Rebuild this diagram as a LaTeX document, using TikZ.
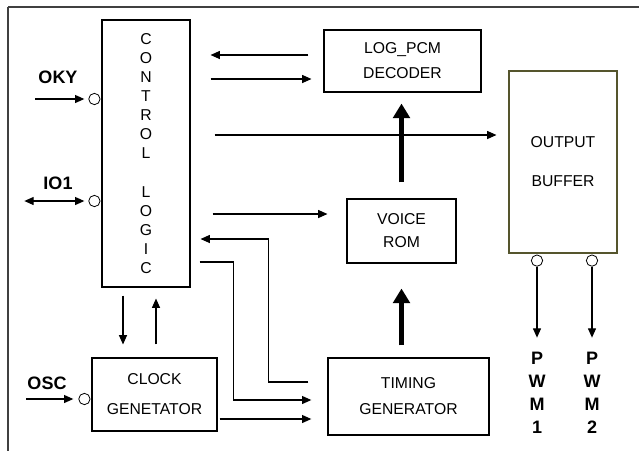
\documentclass[tikz,border=0pt]{standalone}
\usepackage{fontspec}
\setmainfont{Liberation Sans}
\usetikzlibrary{arrows.meta,calc}

\tikzset{
  blk/.style={draw, line width=0.8pt, inner sep=0pt, align=center,
    font=\fontsize{11.8}{#1}\selectfont},
  pin/.style={draw, circle, minimum size=8.5pt, inner sep=0pt, line width=0.6pt},
  lbl/.style={align=center, font=\fontsize{13.5}{17.25}\selectfont\bfseries},
  arr/.style={->, line width=0.9pt},
  fat/.style={-{Triangle[width=12.5pt,length=11pt]}, line width=3.2pt},
}

\begin{document}
\begin{tikzpicture}[x=0.75pt, y=-0.75pt, >={Triangle[width=6pt,length=7pt]}]
	\useasboundingbox (0,0) rectangle (639,451);
	
	% outer frame (open at right and bottom)
	\draw[line width=1.4pt, black!75] (639,7) -- (8,7);
	\draw[line width=1pt, black!75] (8,6.5) -- (8,451);
	
	% blocks
	\node[blk=14.3pt, minimum width=66pt, minimum height=200.25pt] (ctl) at (146,153.5)
		{C\\O\\N\\T\\R\\O\\L\\ \\L\\O\\G\\I\\C};
	\node[blk=18.75pt, minimum width=117.75pt, minimum height=46.5pt] (log) at (402.5,61)
		{LOG\_PCM\\DECODER};
	\node[blk=29.25pt, draw={rgb,255:red,85;green,85;blue,45}, minimum width=81pt, minimum height=136.5pt]
		(buf) at (563,162) {OUTPUT\\BUFFER};
	\node[blk=17.25pt, minimum width=81.75pt, minimum height=48pt] (rom) at (401.5,231)
		{VOICE\\ROM};
	\node[blk=19.5pt, line width=1pt, minimum width=120.75pt, minimum height=57.75pt] (tim) at (408.5,396.5)
		{TIMING\\GENERATOR};
	\node[blk=22.5pt, minimum width=93.75pt, minimum height=54.75pt] (clk) at (154.5,394.5)
		{CLOCK\\GENETATOR};
	
	% pins
	\node[pin, anchor=east] (okyp) at ($(ctl.west)+(-1,-54.5)$) {};
	\node[pin, anchor=east] (io1p) at ($(ctl.west)+(-1,47.5)$) {};
	\node[pin, anchor=east] (oscp) at ($(clk.west)+(-1,4.5)$) {};
	\node[pin, anchor=north] (pwm1p) at ($(buf.south)+(-26,1)$) {};
	\node[pin, anchor=north] (pwm2p) at ($(buf.south)+(29,1)$) {};
	
	% external labels
	\node[lbl] (oky) at (58,77) {OKY};
	\node[lbl] (io1) at (58,183) {IO1};
	\node[lbl] (osc) at (47,383) {OSC};
	\node[lbl] (pwm1) at (537,392.5) {P\\W\\M\\1};
	\node[lbl] (pwm2) at (592,392.5) {P\\W\\M\\2};
	
	% inputs and outputs
	\draw[arr] ($(okyp.west)+(-53,0)$) -- ($(okyp.west)+(-4,0)$);
	\draw[arr, <->] ($(io1p.west)+(-64,0)$) -- ($(io1p.west)+(-4,0)$);
	\draw[arr] ($(oscp.west)+(-52,0)$) -- ($(oscp.west)+(-5,0)$);
	\draw[arr] (pwm1p.south) -- ($(pwm1p.south)+(0,71)$);
	\draw[arr] (pwm2p.south) -- ($(pwm2p.south)+(0,71)$);
	
	% control logic links
	\draw[arr] ($(log.west)+(-15,-6)$) -- ($(ctl.east |- log.west)+(20,-6)$);
	\draw[arr] ($(ctl.east |- log.west)+(20,18)$) -- ($(log.west)+(-12,18)$);
	\draw[arr] ($(ctl.east |- buf.west)+(24,-27)$) -- ($(buf.west)+(-12,-27)$);
	\draw[arr] ($(ctl.east |- rom.west)+(22,-17)$) -- ($(rom.west)+(-19,-17)$);
	\draw[arr] ($(ctl.south)+(-23,8)$) -- ($(ctl.south |- clk.north)+(-23,-13)$);
	\draw[arr] ($(ctl.south |- clk.north)+(10,-13)$) -- ($(ctl.south)+(10,11)$);
	
	% data path
	\draw[fat] ($(rom.north)+(0,-16)$) -- ($(rom.north |- log.south)+(0,11)$);
	\draw[fat] ($(rom.south |- tim.north)+(0,-12)$) -- ($(rom.south)+(0,25)$);
	
	% timing generator links
	\draw[arr] ($(tim.west)+(-19,-14.5)$) -| ($(ctl.east)+(78,85.5)$) -- ($(ctl.east)+(10,85.5)$);
	\draw[arr] ($(ctl.east)+(9,108.5)$) -| ($(tim.west)+(-94,3.5)$) -- ($(tim.west)+(-16,3.5)$);
	\draw[arr] ($(clk.east)+(2,24.5)$) -- ($(tim.west |- clk.east)+(-16,24.5)$);
\end{tikzpicture}
\end{document}
